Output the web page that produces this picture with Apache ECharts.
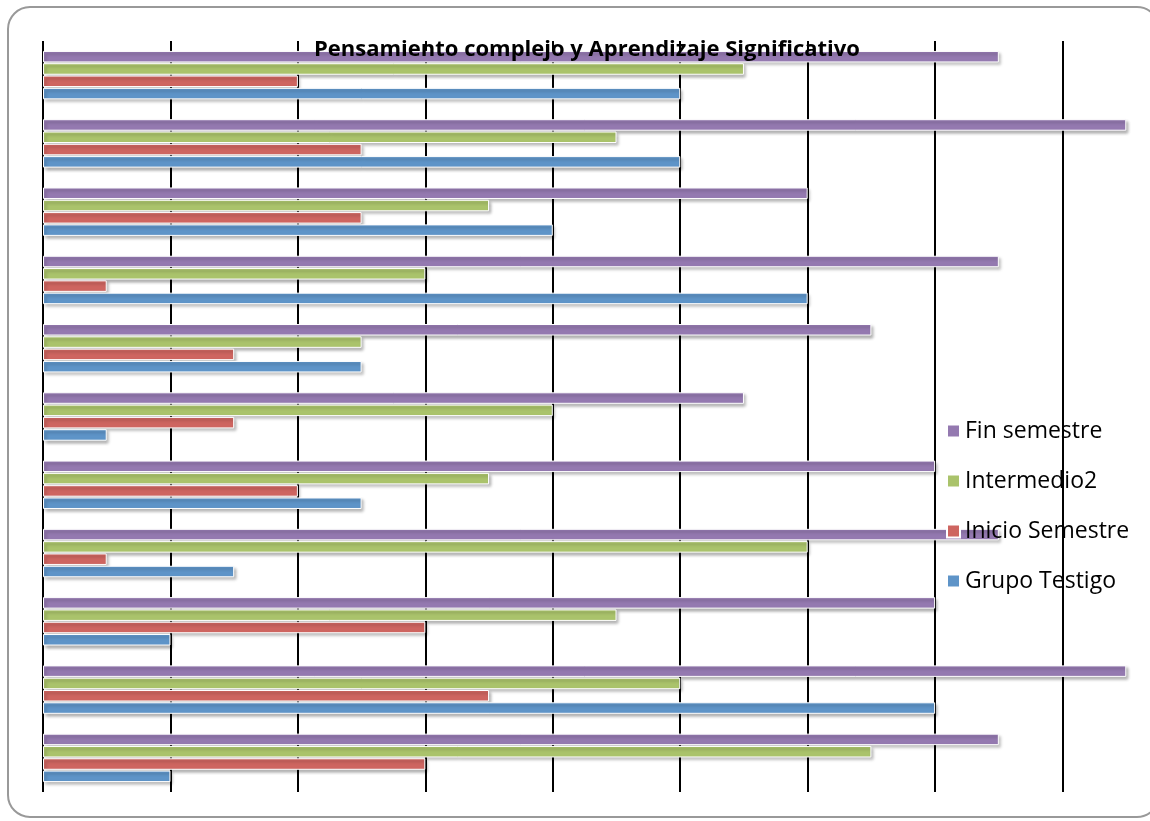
<!DOCTYPE html>
<html>
<head>
<meta charset="utf-8">
<style>
  html, body { margin: 0; padding: 0; background: #fff; }
  #chart { width: 1150px; height: 821px; }
</style>
<script src="https://cdn.jsdelivr.net/npm/echarts@6/dist/echarts.min.js"></script>
</head>
<body>
<div id="chart"></div>
<script>
// Items evaluated (top to bottom), unlabeled in the chart
const categories = ['P1', 'P2', 'P3', 'P4', 'P5', 'P6', 'P7', 'P8', 'P9', 'P10', 'P11'];

// Scores per group and item
const finSemestre    = [15, 17, 12, 15, 13, 11, 14, 15, 14, 17, 15];
const intermedio2    = [11, 9, 7, 6, 5, 8, 7, 12, 9, 10, 13];
const inicioSemestre = [4, 5, 5, 1, 3, 3, 4, 1, 6, 7, 6];
const grupoTestigo   = [10, 10, 8, 12, 5, 1, 5, 3, 2, 14, 2];

// Listed in the order the bars stack within each item, top to bottom
const seriesNames = ['Fin semestre', 'Intermedio2', 'Inicio Semestre', 'Grupo Testigo'];
const seriesColors = ['#9479B0', '#AAC36B', '#CE6560', '#5E94C8'];
const seriesData = [finSemestre, intermedio2, inicioSemestre, grupoTestigo];

const chart = echarts.init(document.getElementById('chart'));

const series = seriesNames.map((name, i) => ({
  name,
  type: 'bar',
  data: seriesData[i],
  barWidth: 11.5,
  barGap: '7%',
  itemStyle: {
    color: seriesColors[i],
    borderColor: '#ffffff',
    borderWidth: 1,
    shadowBlur: 3,
    shadowColor: 'rgba(0,0,0,0.3)',
    shadowOffsetX: 2,
    shadowOffsetY: 2.5
  }
}));

chart.setOption({
  animation: false,
  backgroundColor: '#ffffff',
  title: {
    text: 'Pensamiento complejo y Aprendizaje Significativo',
    left: 309,
    top: 34,
    textStyle: {
      fontFamily: 'Open Sans',
      fontWeight: 'bold',
      fontSize: 22,
      color: '#000'
    }
  },
  legend: {
    data: seriesNames,
    orient: 'vertical',
    left: 941,
    top: 414,
    itemWidth: 13,
    itemHeight: 13,
    itemGap: 26,
    icon: 'rect',
    textStyle: {
      fontFamily: 'Open Sans',
      fontSize: 23,
      lineHeight: 24,
      color: '#000'
    }
  },
  grid: {
    left: 43,
    top: 41,
    width: 1147,
    height: 751,
    containLabel: false,
    outerBoundsMode: 'none'
  },
  xAxis: {
    type: 'value',
    min: 0,
    max: 18,
    interval: 2,
    axisLine: { show: false },
    axisTick: { show: false },
    axisLabel: { show: false },
    splitLine: { show: true, lineStyle: { color: '#000', width: 2 } }
  },
  yAxis: {
    type: 'category',
    data: categories,
    inverse: true,
    axisLine: { show: false },
    axisTick: { show: false },
    axisLabel: { show: false },
    splitLine: { show: false }
  },
  graphic: [{
    type: 'rect',
    shape: { x: 8, y: 7, width: 1151, height: 810, r: 22 },
    style: { fill: 'none', stroke: '#999', lineWidth: 2 },
    silent: true,
    z: 10
  }],
  series
});
</script>
</body>
</html>
